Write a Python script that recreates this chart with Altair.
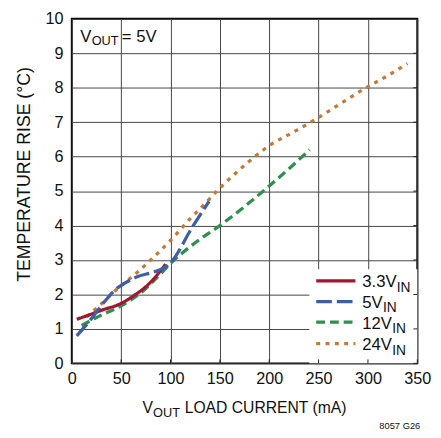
import altair as alt
import pandas as pd

# ---- data ----
x_33 = [5, 15, 30, 50, 63, 76, 86, 95]
y_33 = [1.28, 1.38, 1.54, 1.74, 1.97, 2.25, 2.55, 2.88]

x_5 = [5, 20, 30, 45, 55, 65, 85, 95, 100, 122, 139]
y_5 = [0.8, 1.3, 1.68, 2.16, 2.35, 2.5, 2.67, 2.8, 2.92, 3.95, 4.7]

x_12 = [10, 30, 50, 70, 85, 100, 125, 150, 175, 200, 220, 241]
y_12 = [1.1, 1.4, 1.67, 2.05, 2.45, 2.9, 3.5, 4.0, 4.55, 5.15, 5.65, 6.2]

x_24 = [15, 30, 46, 65, 80, 101, 120, 133, 148, 175, 200, 225, 245, 270, 297, 320, 340]
y_24 = [1.35, 1.73, 2.16, 2.61, 3.0, 3.6, 4.2, 4.58, 5.03, 5.75, 6.32, 6.72, 7.05, 7.5, 7.98, 8.35, 8.7]

series_main = ["3.3V", "5V", "12V", "24V"]
series_sub = ["IN", "IN", "IN", "IN"]
x_ticks = [0, 50, 100, 150, 200, 250, 300, 350]
y_ticks = [0, 1, 2, 3, 4, 5, 6, 7, 8, 9, 10]

# ---- styles ----
FONT = "Liberation Sans"
colors = ["#a0182f", "#3f5ea8", "#2f8f4f", "#c47a35"]
dashes = [[1, 0], [16, 5], [9, 5], [4, 5.5]]
W, H = 352, 351

x_enc = alt.X(
    "x:Q",
    scale=alt.Scale(domain=[0, 350], nice=False, zero=False),
    axis=alt.Axis(
        values=x_ticks, title=None, grid=True, gridColor="#444", gridWidth=1,
        domain=False, ticks=False, labelFont=FONT, labelFontSize=16.5,
        labelColor="#111", labelPadding=8, labelFlush=False,
    ),
)
y_enc = alt.Y(
    "y:Q",
    scale=alt.Scale(domain=[0, 10], nice=False, zero=False),
    axis=alt.Axis(
        values=y_ticks, title="TEMPERATURE RISE (°C)", grid=True, gridColor="#444",
        gridWidth=1, domain=False, ticks=False, labelFont=FONT, labelFontSize=16.5,
        labelColor="#111", labelPadding=9, labelFlush=False,
        titleFont=FONT, titleFontSize=18, titleFontWeight="normal", titleColor="#111",
        titleAngle=270, titleX=-43, titleY=158, titleAlign="center",
        titleBaseline="alphabetic",
    ),
)

series = [(x_33, y_33), (x_5, y_5), (x_12, y_12), (x_24, y_24)]
layers = []
for i in [3, 2, 0, 1]:
    xs, ys = series[i]
    df = pd.DataFrame({"x": xs, "y": ys})
    layers.append(
        alt.Chart(df).mark_line(
            color=colors[i], strokeWidth=3.3, strokeDash=dashes[i],
            interpolate="monotone",
        ).encode(x=x_enc, y=y_enc)
    )

one = pd.DataFrame({"a": [0]})

# legend box
layers.append(
    alt.Chart(one).mark_rect(color="white").encode(
        x=alt.value(242), x2=alt.value(W), y=alt.value(255), y2=alt.value(H)
    )
)
# inward ticks (visible inside the legend box)
layers.append(
    alt.Chart(pd.DataFrame({"x": x_ticks})).mark_rule(color="#222", strokeWidth=1).encode(
        x=x_enc, y=alt.value(H - 4), y2=alt.value(H)
    )
)
layers.append(
    alt.Chart(pd.DataFrame({"y": y_ticks})).mark_rule(color="#222", strokeWidth=1).encode(
        y=y_enc, x=alt.value(W - 4), x2=alt.value(W)
    )
)

# legend entries
row_y = [267, 288, 309, 331]
main_w = [35, 21, 30.5, 30.5]
for i in range(4):
    ry = row_y[i]
    layers.append(
        alt.Chart(one).mark_rule(color=colors[i], strokeWidth=3.3, strokeDash=dashes[i]).encode(
            x=alt.value(249), x2=alt.value(289), y=alt.value(ry)
        )
    )
    layers.append(
        alt.Chart(pd.DataFrame({"t": [series_main[i]]})).mark_text(
            font=FONT, fontSize=17, align="left", baseline="alphabetic", color="#111"
        ).encode(x=alt.value(296), y=alt.value(ry + 6.5), text="t:N")
    )
    layers.append(
        alt.Chart(pd.DataFrame({"t": [series_sub[i]]})).mark_text(
            font=FONT, fontSize=14, align="left", baseline="alphabetic", color="#111"
        ).encode(x=alt.value(296 + main_w[i]), y=alt.value(ry + 11), text="t:N")
    )


def txt(s, x, y, size, align="left"):
    return alt.Chart(pd.DataFrame({"t": [s]})).mark_text(
        font=FONT, fontSize=size, align=align, baseline="alphabetic", color="#111"
    ).encode(x=alt.value(x), y=alt.value(y), text="t:N")


# inner title V_OUT = 5V
layers.append(txt("V", 8.7, 23.3, 17))
layers.append(txt("OUT", 20.2, 26.5, 13))
layers.append(txt("= 5V", 51, 23.3, 17))

# x title V_OUT LOAD CURRENT (mA)
layers.append(txt("V", 72, 402, 16))
layers.append(txt("OUT", 82.8, 406, 13))
layers.append(txt("LOAD CURRENT (mA)", 115, 402, 16))

# figure code
layers.append(txt("8057 G26", 355, 418, 9.5, align="right"))

chart = alt.layer(*layers).properties(
    width=W, height=H,
    autosize=alt.AutoSizeParams(type="none"),
    padding={"left": 65, "top": 7, "right": 16, "bottom": 72},
).configure_view(stroke="black", strokeWidth=2)

chart.save("out.html", embed_options={"renderer": "svg", "actions": False})
